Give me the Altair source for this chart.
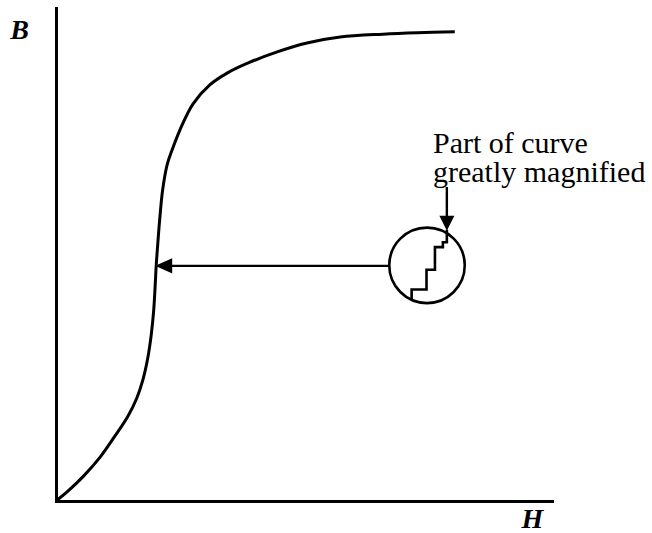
import altair as alt
import pandas as pd

# Magnetisation curve B(H), in axis units (0-100 on both axes)
curve_h = [0, 2.4, 5.6, 8.9, 11.9, 14.5, 16.3, 17.5, 18.5, 19.2, 19.7, 20.0, 20.2,
           20.5, 20.9, 21.5, 22.4, 23.4, 25.0, 27.6, 31.0, 34.5, 39.1, 44.6, 50.6,
           57.3, 65.9, 72.8, 80.4]
curve_b = [0, 2.0, 5.1, 8.9, 13.2, 17.2, 20.9, 24.5, 29.0, 33.7, 38.7, 43.8, 47.7,
           51.9, 57.0, 63.1, 68.2, 71.2, 75.3, 80.5, 84.4, 86.8, 89.0, 91.1, 92.9,
           94.1, 94.7, 95.0, 95.2]

# Magnified detail: the curve rises in small discrete jumps
step_h = [71.7, 71.7, 74.7, 74.7, 76.4, 76.4, 78.0, 78.0, 78.8, 78.8]
step_b = [40.8, 42.9, 42.9, 46.9, 46.9, 51.5, 51.5, 52.5, 52.5, 55.0]

# Lens circle around the magnified detail
lens_h = [74.8]
lens_b = [47.8]

# Pointer from the lens back to the steep part of the curve
pointer_h = [67.1, 21.5]
pointer_b = [47.7, 47.7]
pointer_tip_h = [20.0]
pointer_tip_b = [47.7]

# Pointer from the caption down onto the detail
caption_arrow_h = [78.8, 78.8]
caption_arrow_b = [63.7, 57.0]
caption_tip_h = [78.8]
caption_tip_b = [54.8]

caption_lines = ["Part of curve", "greatly magnified"]
caption_h = [76.0, 76.0]
caption_b = [70.6, 64.8]

SERIF = "Liberation Serif, Times New Roman, Times, serif"

x_axis = alt.Axis(
    title="H", domain=True, domainColor="black", domainWidth=3, domainCap="square",
    ticks=False, labels=False, grid=False,
    titleFont=SERIF, titleFontSize=28, titleFontStyle="italic", titleFontWeight="bold",
    titleColor="black", titleAngle=0, titleX=476, titleY=26,
    titleAlign="center", titleBaseline="alphabetic",
)
y_axis = alt.Axis(
    title="B", domain=True, domainColor="black", domainWidth=3, domainCap="square",
    ticks=False, labels=False, grid=False,
    titleFont=SERIF, titleFontSize=28, titleFontStyle="italic", titleFontWeight="bold",
    titleColor="black", titleAngle=0, titleX=-37, titleY=30,
    titleAlign="center", titleBaseline="alphabetic",
)


def xy(hfield="h", bfield="b"):
    return dict(
        x=alt.X(f"{hfield}:Q", scale=alt.Scale(domain=[0, 100], nice=False, zero=False), axis=x_axis),
        y=alt.Y(f"{bfield}:Q", scale=alt.Scale(domain=[0, 100], nice=False, zero=False), axis=y_axis),
    )


curve_df = pd.DataFrame({"h": curve_h, "b": curve_b, "i": range(len(curve_h))})
step_df = pd.DataFrame({"h": step_h, "b": step_b, "i": range(len(step_h))})
lens_df = pd.DataFrame({"h": lens_h, "b": lens_b})
pointer_df = pd.DataFrame({"h": pointer_h, "b": pointer_b})
pointer_tip_df = pd.DataFrame({"h": pointer_tip_h, "b": pointer_tip_b})
cap_arrow_df = pd.DataFrame({"h": caption_arrow_h, "b": caption_arrow_b, "i": [0, 1]})
cap_tip_df = pd.DataFrame({"h": caption_tip_h, "b": caption_tip_b})
caption_df = pd.DataFrame({"h": caption_h, "b": caption_b, "t": caption_lines})

curve = alt.Chart(curve_df).mark_line(
    color="black", strokeWidth=3, interpolate="catmull-rom"
).encode(order="i:Q", **xy())

steps = alt.Chart(step_df).mark_line(
    color="black", strokeWidth=2.6, strokeJoin="miter"
).encode(order="i:Q", **xy())

lens = alt.Chart(lens_df).mark_point(
    shape="circle", size=5700, filled=False, color="black", strokeWidth=2.6, opacity=1
).encode(**xy())

pointer = alt.Chart(pointer_df).mark_line(
    color="black", strokeWidth=2.4
).encode(**xy())

pointer_head = alt.Chart(pointer_tip_df).mark_point(
    shape="M0,0L2,-0.9L2,0.9Z", size=289, filled=True, color="black",
    strokeWidth=0, opacity=1
).encode(**xy())

cap_arrow = alt.Chart(cap_arrow_df).mark_line(
    color="black", strokeWidth=2.4
).encode(order="i:Q", **xy())

cap_head = alt.Chart(cap_tip_df).mark_point(
    shape="M0,0L-1,-2L1,-2Z", size=225, filled=True, color="black",
    strokeWidth=0, opacity=1
).encode(**xy())

caption = alt.Chart(caption_df).mark_text(
    align="left", baseline="alphabetic", font=SERIF, fontSize=30, color="black"
).encode(text="t:N", **xy())

chart = (
    alt.layer(curve, steps, lens, pointer, pointer_head, cap_arrow, cap_head, caption)
    .properties(
        width=496, height=493,
        autosize=alt.AutoSizeParams(type="none"),
        padding={"left": 56, "top": 8, "right": 100, "bottom": 32},
        background="white",
    )
    .configure_view(stroke=None)
)

chart.save("out.html", embed_options={"renderer": "svg", "actions": False})
